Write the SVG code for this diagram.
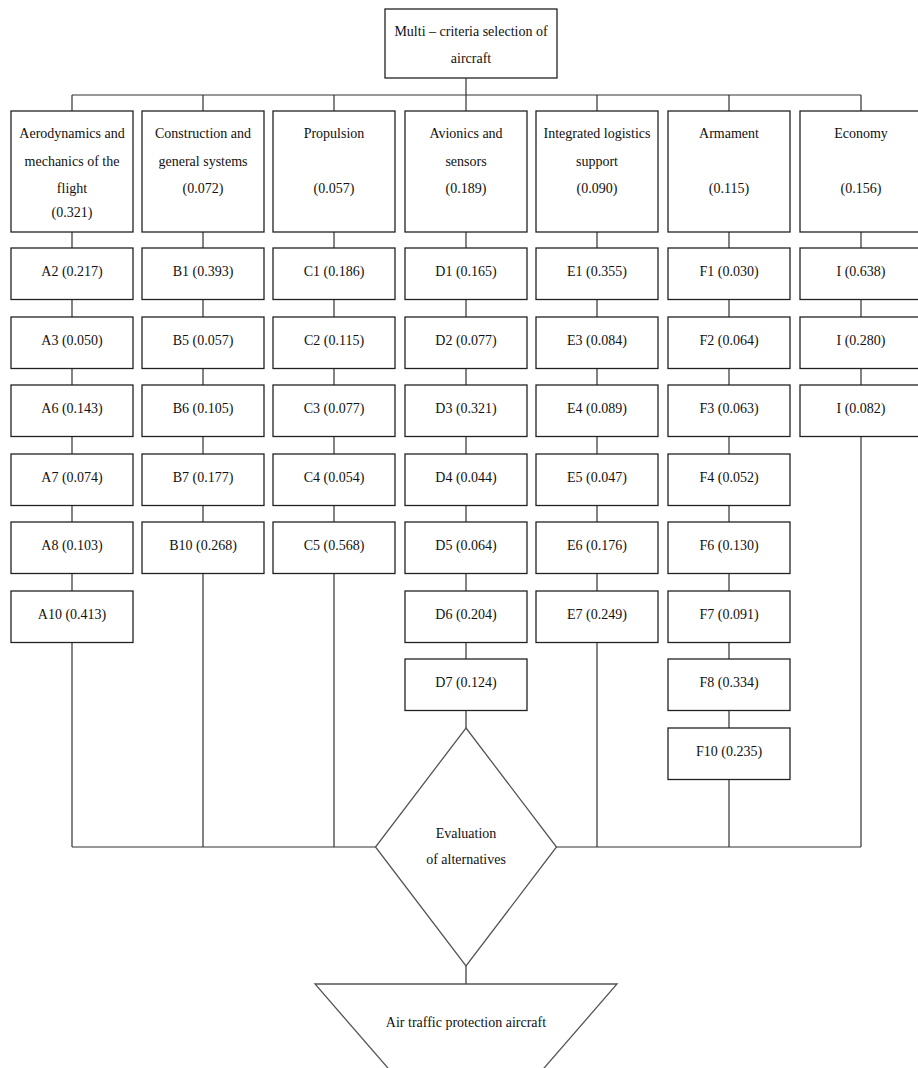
<svg xmlns="http://www.w3.org/2000/svg" width="918" height="1068" viewBox="0 0 918 1068">
<style>
.b{fill:#fff;stroke:#222;stroke-width:1.3}
.s{fill:#fff;stroke:#555;stroke-width:1.3}
.c{fill:none;stroke:#333;stroke-width:1.2}
text{font-family:"Liberation Serif","Times New Roman",serif;font-size:14px;fill:#111;text-anchor:middle}
</style>
<rect width="918" height="1068" fill="#fff"/>
<g id="connectors">
<path class="c" d="M466 78V111M72 95H861M72 95V111M203 95V111M334 95V111M597 95V111M729 95V111M861 95V111"/>
<path class="c" d="M72 232V248M72 299.5V317M72 368.5V385M72 436.5V454M72 505.5V522M72 573.5V591M72 642.5V847"/>
<path class="c" d="M203 232V248M203 299.5V317M203 368.5V385M203 436.5V454M203 505.5V522M203 573.5V847"/>
<path class="c" d="M334 232V248M334 299.5V317M334 368.5V385M334 436.5V454M334 505.5V522M334 573.5V847"/>
<path class="c" d="M466 232V248M466 299.5V317M466 368.5V385M466 436.5V454M466 505.5V522M466 573.5V591M466 642.5V659M466 710.5V728"/>
<path class="c" d="M597 232V248M597 299.5V317M597 368.5V385M597 436.5V454M597 505.5V522M597 573.5V591M597 642.5V847"/>
<path class="c" d="M729 232V248M729 299.5V317M729 368.5V385M729 436.5V454M729 505.5V522M729 573.5V591M729 642.5V659M729 710.5V728M729 779.5V847"/>
<path class="c" d="M861 232V248M861 299.5V317M861 368.5V385M861 436.5V847"/>
<path class="c" d="M72 847H376M556 847H861M466 966V984"/>
</g>
<g id="root"><rect class="b" x="385" y="9" width="172" height="69"/><text x="471" y="36">Multi – criteria selection of</text><text x="471" y="63">aircraft</text></g>
<g id="hA"><rect class="b" x="11" y="111" width="122" height="121"/><text x="72" y="138">Aerodynamics and</text><text x="72" y="166">mechanics of the</text><text x="72" y="193">flight</text><text x="72" y="217">(0.321)</text></g>
<g id="hB"><rect class="b" x="142" y="111" width="122" height="121"/><text x="203" y="138">Construction and</text><text x="203" y="166">general systems</text><text x="203" y="193">(0.072)</text></g>
<g id="hC"><rect class="b" x="273" y="111" width="122" height="121"/><text x="334" y="138">Propulsion</text><text x="334" y="193">(0.057)</text></g>
<g id="hD"><rect class="b" x="405" y="111" width="122" height="121"/><text x="466" y="138">Avionics and</text><text x="466" y="166">sensors</text><text x="466" y="193">(0.189)</text></g>
<g id="hE"><rect class="b" x="536" y="111" width="122" height="121"/><text x="597" y="138">Integrated logistics</text><text x="597" y="166">support</text><text x="597" y="193">(0.090)</text></g>
<g id="hF"><rect class="b" x="668" y="111" width="122" height="121"/><text x="729" y="138">Armament</text><text x="729" y="193">(0.115)</text></g>
<g id="hG"><rect class="b" x="800" y="111" width="122" height="121"/><text x="861" y="138">Economy</text><text x="861" y="193">(0.156)</text></g>
<g id="A2"><rect class="b" x="11" y="248" width="122" height="51.5"/><text x="72" y="275.5">A2 (0.217)</text></g>
<g id="A3"><rect class="b" x="11" y="317" width="122" height="51.5"/><text x="72" y="344.5">A3 (0.050)</text></g>
<g id="A6"><rect class="b" x="11" y="385" width="122" height="51.5"/><text x="72" y="412.5">A6 (0.143)</text></g>
<g id="A7"><rect class="b" x="11" y="454" width="122" height="51.5"/><text x="72" y="481.5">A7 (0.074)</text></g>
<g id="A8"><rect class="b" x="11" y="522" width="122" height="51.5"/><text x="72" y="549.5">A8 (0.103)</text></g>
<g id="A10"><rect class="b" x="11" y="591" width="122" height="51.5"/><text x="72" y="618.5">A10 (0.413)</text></g>
<g id="B1"><rect class="b" x="142" y="248" width="122" height="51.5"/><text x="203" y="275.5">B1 (0.393)</text></g>
<g id="B5"><rect class="b" x="142" y="317" width="122" height="51.5"/><text x="203" y="344.5">B5 (0.057)</text></g>
<g id="B6"><rect class="b" x="142" y="385" width="122" height="51.5"/><text x="203" y="412.5">B6 (0.105)</text></g>
<g id="B7"><rect class="b" x="142" y="454" width="122" height="51.5"/><text x="203" y="481.5">B7 (0.177)</text></g>
<g id="B10"><rect class="b" x="142" y="522" width="122" height="51.5"/><text x="203" y="549.5">B10 (0.268)</text></g>
<g id="C1"><rect class="b" x="273" y="248" width="122" height="51.5"/><text x="334" y="275.5">C1 (0.186)</text></g>
<g id="C2"><rect class="b" x="273" y="317" width="122" height="51.5"/><text x="334" y="344.5">C2 (0.115)</text></g>
<g id="C3"><rect class="b" x="273" y="385" width="122" height="51.5"/><text x="334" y="412.5">C3 (0.077)</text></g>
<g id="C4"><rect class="b" x="273" y="454" width="122" height="51.5"/><text x="334" y="481.5">C4 (0.054)</text></g>
<g id="C5"><rect class="b" x="273" y="522" width="122" height="51.5"/><text x="334" y="549.5">C5 (0.568)</text></g>
<g id="D1"><rect class="b" x="405" y="248" width="122" height="51.5"/><text x="466" y="275.5">D1 (0.165)</text></g>
<g id="D2"><rect class="b" x="405" y="317" width="122" height="51.5"/><text x="466" y="344.5">D2 (0.077)</text></g>
<g id="D3"><rect class="b" x="405" y="385" width="122" height="51.5"/><text x="466" y="412.5">D3 (0.321)</text></g>
<g id="D4"><rect class="b" x="405" y="454" width="122" height="51.5"/><text x="466" y="481.5">D4 (0.044)</text></g>
<g id="D5"><rect class="b" x="405" y="522" width="122" height="51.5"/><text x="466" y="549.5">D5 (0.064)</text></g>
<g id="D6"><rect class="b" x="405" y="591" width="122" height="51.5"/><text x="466" y="618.5">D6 (0.204)</text></g>
<g id="D7"><rect class="b" x="405" y="659" width="122" height="51.5"/><text x="466" y="686.5">D7 (0.124)</text></g>
<g id="E1"><rect class="b" x="536" y="248" width="122" height="51.5"/><text x="597" y="275.5">E1 (0.355)</text></g>
<g id="E3"><rect class="b" x="536" y="317" width="122" height="51.5"/><text x="597" y="344.5">E3 (0.084)</text></g>
<g id="E4"><rect class="b" x="536" y="385" width="122" height="51.5"/><text x="597" y="412.5">E4 (0.089)</text></g>
<g id="E5"><rect class="b" x="536" y="454" width="122" height="51.5"/><text x="597" y="481.5">E5 (0.047)</text></g>
<g id="E6"><rect class="b" x="536" y="522" width="122" height="51.5"/><text x="597" y="549.5">E6 (0.176)</text></g>
<g id="E7"><rect class="b" x="536" y="591" width="122" height="51.5"/><text x="597" y="618.5">E7 (0.249)</text></g>
<g id="F1"><rect class="b" x="668" y="248" width="122" height="51.5"/><text x="729" y="275.5">F1 (0.030)</text></g>
<g id="F2"><rect class="b" x="668" y="317" width="122" height="51.5"/><text x="729" y="344.5">F2 (0.064)</text></g>
<g id="F3"><rect class="b" x="668" y="385" width="122" height="51.5"/><text x="729" y="412.5">F3 (0.063)</text></g>
<g id="F4"><rect class="b" x="668" y="454" width="122" height="51.5"/><text x="729" y="481.5">F4 (0.052)</text></g>
<g id="F6"><rect class="b" x="668" y="522" width="122" height="51.5"/><text x="729" y="549.5">F6 (0.130)</text></g>
<g id="F7"><rect class="b" x="668" y="591" width="122" height="51.5"/><text x="729" y="618.5">F7 (0.091)</text></g>
<g id="F8"><rect class="b" x="668" y="659" width="122" height="51.5"/><text x="729" y="686.5">F8 (0.334)</text></g>
<g id="F10"><rect class="b" x="668" y="728" width="122" height="51.5"/><text x="729" y="755.5">F10 (0.235)</text></g>
<g id="I1"><rect class="b" x="800" y="248" width="122" height="51.5"/><text x="861" y="275.5">I (0.638)</text></g>
<g id="I2"><rect class="b" x="800" y="317" width="122" height="51.5"/><text x="861" y="344.5">I (0.280)</text></g>
<g id="I3"><rect class="b" x="800" y="385" width="122" height="51.5"/><text x="861" y="412.5">I (0.082)</text></g>
<g id="evaluation"><polygon class="s" points="466,728 556.5,847 466,966 375.5,847"/><text x="466" y="837.5">Evaluation</text><text x="466" y="864">of alternatives</text></g>
<g id="result"><polygon class="s" points="315,984 617,984 466,1158"/><text x="466" y="1026.5">Air traffic protection aircraft</text></g>
</svg>
